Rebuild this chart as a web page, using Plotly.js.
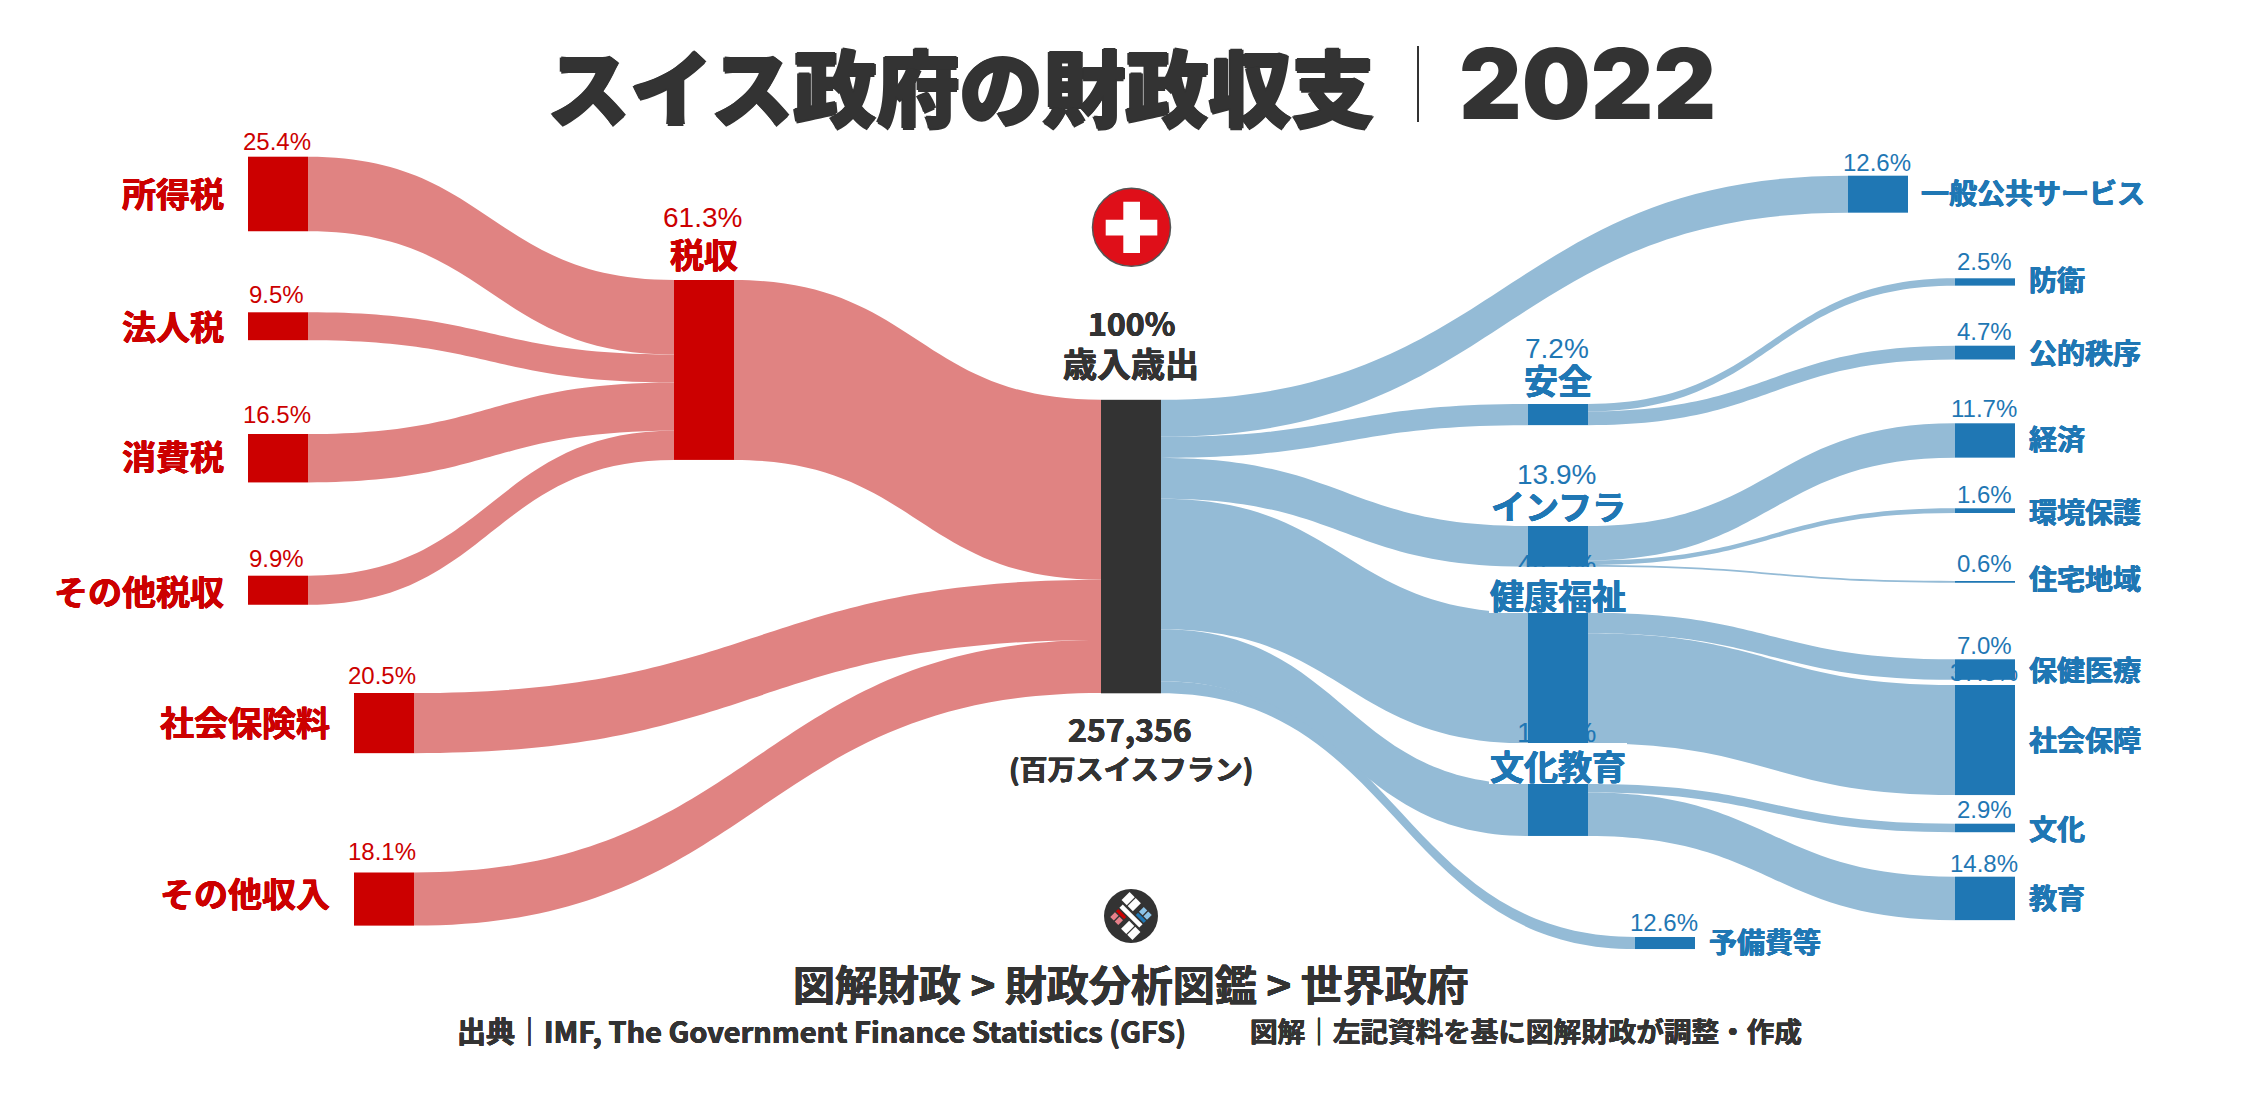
<!DOCTYPE html>
<html><head><meta charset="utf-8">
<script src="https://cdn.plot.ly/plotly-3.0.1.min.js"></script>
<style>html,body{margin:0;padding:0;background:#fff;overflow:hidden}</style>
</head><body><div id="chart" style="width:2247px;height:1096px"></div>
<script>
// ---------- data ----------
const nodeNames = ['所得税','法人税','消費税','その他税収','社会保険料','その他収入','税収','歳入歳出',
  '一般公共サービス','安全','インフラ','健康福祉','文化教育','予備費等',
  '防衛','公的秩序','経済','環境保護','住宅地域','保健医療','社会保障','文化','教育'];
const percentLabels = ['25.4%','9.5%','16.5%','9.9%','20.5%','18.1%','61.3%','100%',
  '12.6%','7.2%','13.9%','44.5%','17.7%','12.6%',
  '2.5%','4.7%','11.7%','1.6%','0.6%','7.0%','37.5%','2.9%','14.8%'];
const linkSources = [0,1,2,3, 6,4,5, 7,7,7,7,7,7, 9,9, 10,10,10, 11,11, 12,12];
const linkTargets = [6,6,6,6, 7,7,7, 8,9,10,11,12,13, 14,15, 16,17,18, 19,20, 21,22];
const linkValues  = [25.4,9.5,16.5,9.9, 61.3,20.5,18.1, 12.6,7.2,13.9,44.5,17.7,4.1, 2.5,4.7, 11.7,1.6,0.6, 7.0,37.5, 2.9,14.8];
const totalAmount = '257,356';

// ---------- layout helpers ----------
const W = 2247, H = 1096;
const BAND_TOP = 399.8, PX_PER_PCT = 2.935, BAND = 100 * PX_PER_PCT, THICK = 60;
const RED = '#CC0000', DARK = '#333333', BLUE = '#1F77B4', RED_L = '#E08382', BLUE_L = '#94BBD6';
const nodeCX = [278,278,278,278,384,384,704,1131,1878,1558,1558,1558,1558,1665,1985,1985,1985,1985,1985,1985,1985,1985,1985];
const nodeTop = [156.7,312.3,434,575.7,693,872.5,280,399.8,175.7,404,526,612.7,784,937,278.3,345.7,423.3,508.3,581,659.3,685,823.7,876.7];
const nodeColors = nodeNames.map((_, i) => i < 7 ? RED : i === 7 ? DARK : BLUE);
const linkColors = linkSources.map(s => (s < 7) ? RED_L : BLUE_L);
const nodeVal = nodeNames.map((_, i) => {
  const a = linkValues.filter((_, k) => linkTargets[k] === i).reduce((x, y) => x + y, 0);
  const b = linkValues.filter((_, k) => linkSources[k] === i).reduce((x, y) => x + y, 0);
  return Math.max(a, b);
});
const nodeX = nodeCX.map(x => x / W);
const nodeY = nodeTop.map((t, i) => (t + nodeVal[i] * PX_PER_PCT / 2 - BAND_TOP) / BAND);

const FONT = '"Noto Sans CJK JP","Noto Sans",sans-serif';
const PCT = '"Liberation Sans",Arial,sans-serif';
const thick = (c, d) => `${d}px 0 0 ${c},-${d}px 0 0 ${c},0 ${d}px 0 ${c},0 -${d}px 0 ${c}`;
function note(text, x, y, size, color, anchor, extra) {
  return Object.assign({
    text, xref: 'paper', yref: 'paper', x: x / W, y: 1 - y / H, xanchor: anchor || 'center', yanchor: 'middle',
    showarrow: false, borderpad: 0, borderwidth: 0,
    font: {family: FONT, size, color, weight: 700}
  }, extra || {});
}
function name(text, x, y, size, color, anchor, extra) {
  return note(text, x, y, size, color, anchor, Object.assign({font: {family: FONT, size, color, weight: 700, shadow: thick(color, 0.4)}}, extra || {}));
}
function pct(i, x, y, color, size) {
  return note(percentLabels[i], x, y, size || 24, color, 'center', {font: {family: PCT, size: size || 24, color, weight: 400}});
}
function whiteBox(x0, y0, x1, y1) {
  return note('\u00A0', (x0 + x1) / 2, (y0 + y1) / 2, 10, '#ffffff', 'center', {width: x1 - x0, height: y1 - y0, bgcolor: '#ffffff'});
}
const anns = [];
// percentages first so that the white label backings lie over them
[[0,276.5,141.7],[1,276.5,295],[2,276.5,415],[3,276.5,558],[4,382.5,675],[5,382.5,851]].forEach(a => anns.push(pct(a[0],a[1],a[2],RED)));
anns.push(pct(6,702.5,218,RED,28));
[[8,1876.5,162.7],[14,1984,262],[15,1984,331],[16,1984,408],[17,1984,494],[18,1984,563],[19,1984,645],[20,1984,672],[21,1984,809],[22,1984,863],[13,1664,922]].forEach(a => anns.push(pct(a[0],a[1],a[2],BLUE)));
[[9,348],[10,474],[11,564],[12,733]].forEach(a => anns.push(pct(a[0],1556.5,a[1],BLUE,28)));
anns.push(whiteBox(1489,567,1627,613));
anns.push(whiteBox(1489,743,1627,784));
// names
[[0,224,192],[1,224,325],[2,224,455],[3,224,590],[4,330,722],[5,330,892]].forEach(a => anns.push(name(nodeNames[a[0]],a[1],a[2],34,RED,'right')));
anns.push(name(nodeNames[6],704,254,34,RED));
[[8,1921,192],[14,2029,279],[15,2029,352],[16,2029,438],[17,2029,511],[18,2029,578],[19,2029,669],[20,2029,739],[21,2029,828],[22,2029,897],[13,1709,941]].forEach(a => anns.push(name(nodeNames[a[0]],a[1],a[2],28,BLUE,'left')));
[[9,379],[10,505],[11,594],[12,765]].forEach(a => anns.push(name(nodeNames[a[0]],1558,a[1],34,BLUE,'center')));
// centre
anns.push(name(percentLabels[7],1131,322,32,DARK));
anns.push(name(nodeNames[7],1131,362,34,DARK));
anns.push(name(totalAmount,1130,728,32,DARK));
anns.push(name('(百万スイスフラン)',1131,768,28,DARK));
// title
anns.push(note('スイス政府の財政収支',961,84,83,DARK,'center',{font:{family:FONT,size:83,color:DARK,weight:900,shadow:thick(DARK,1.5)}}));
anns.push(note('2022',1587,84,97,DARK,'center',{font:{family:'Inter,sans-serif',size:97,color:DARK,weight:900}}));
// footer
anns.push(name('図解財政 > 財政分析図鑑 > 世界政府',1131,982,42,DARK));
anns.push(name('出典｜IMF, The Government Finance Statistics (GFS)',821,1030,29,DARK));
anns.push(name('図解｜左記資料を基に図解財政が調整・作成',1526,1030,27.6,DARK));

// decorative shapes in pixel terms
const px = x => x / W, py = y => 1 - y / H;
function rect(x0,y0,x1,y1,fill){return {type:'rect',xref:'paper',yref:'paper',x0:px(x0),x1:px(x1),y0:py(y0),y1:py(y1),fillcolor:fill,line:{width:0}};}
function circle(cx,cy,r,fill,lc,lw){return {type:'circle',xref:'paper',yref:'paper',x0:px(cx-r),x1:px(cx+r),y0:py(cy-r),y1:py(cy+r),fillcolor:fill,line:{color:lc,width:lw}};}
const LCX = 1131, LCY = 916, S = Math.SQRT1_2 / 3;
function cell(u0,u1,v0,v1,fill){
  const pts = [[u0,v0],[u1,v0],[u1,v1],[u0,v1]].map(p => [LCX + (p[0]+p[1])*S, LCY + (p[0]-p[1])*S]);
  const d = 'M' + pts.map(p => px(p[0]).toFixed(5)+','+py(p[1]).toFixed(5)).join('L') + 'Z';
  return {type:'path',xref:'paper',yref:'paper',path:d,fillcolor:fill,line:{width:0}};
}
const shapes = [
  rect(1417,46,1419,122,DARK),
  circle(1131.5,227.3,39,'#DF0F19','#555555',1.5),
  rect(1105.7,219.7,1157.3,235.4,'#ffffff'),
  rect(1123.3,201.7,1140,253,'#ffffff'),
  circle(LCX,LCY,27,DARK,DARK,0),
  cell(-42,42,-7,7,'#ffffff'),
  cell(-54,-32,14,48,'#ffffff'), cell(-28,-6,14,48,'#ffffff'),
  cell(6,28,-48,-14,'#ffffff'), cell(32,54,-48,-14,'#ffffff'),
  cell(8,42,12,22,BLUE), cell(8,23,26,46,'#8CC4E8'), cell(27,42,26,46,'#8CC4E8'),
  cell(-42,-8,-22,-12,RED), cell(-23,-8,-46,-26,'#E8808A'), cell(-42,-27,-46,-26,'#E8808A')
];

const trace = {
  type: 'sankey', arrangement: 'fixed', orientation: 'h', hoverinfo: 'none',
  domain: {x: [0, 1], y: [1 - (BAND_TOP + BAND) / H, 1 - BAND_TOP / H]},
  node: {label: nodeNames.map(() => ''), x: nodeX, y: nodeY, pad: 0, thickness: THICK, color: nodeColors, line: {width: 0}, hoverinfo: 'none'},
  link: {source: linkSources, target: linkTargets, value: linkValues, color: linkColors, line: {width: 0}, hoverinfo: 'none'}
};
Plotly.newPlot('chart', [trace], {
  width: W, height: H, margin: {l: 0, r: 0, t: 0, b: 0}, paper_bgcolor: '#fff', plot_bgcolor: '#fff',
  annotations: anns, shapes: shapes, showlegend: false, font: {family: FONT}
}, {displayModeBar: false});
</script></body></html>
